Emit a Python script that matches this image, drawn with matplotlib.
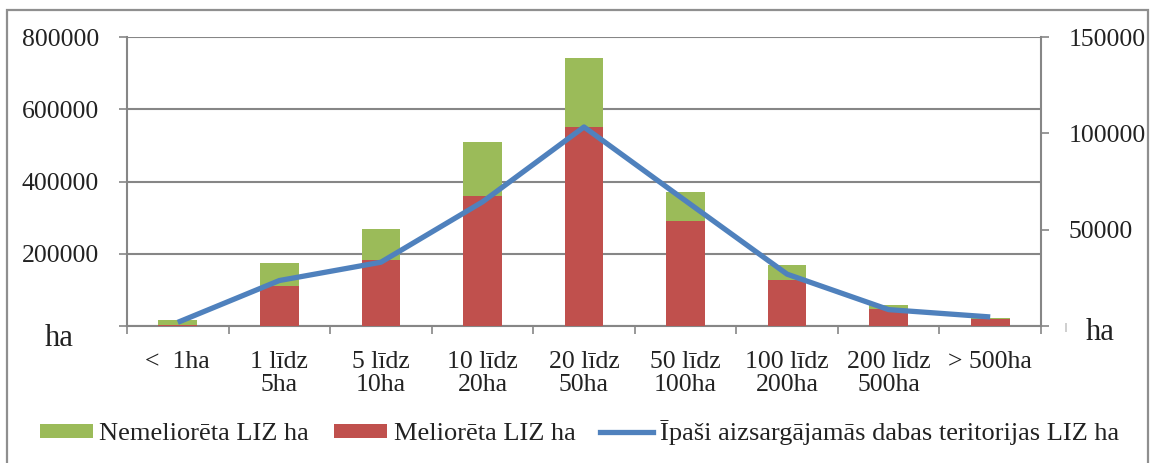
import matplotlib
matplotlib.use("Agg")
import matplotlib.pyplot as plt
import numpy as np
from matplotlib.patches import Rectangle, Patch
from matplotlib.lines import Line2D

categories = ["<  1ha", "1 līdz\n5ha", "5 līdz\n10ha", "10 līdz\n20ha", "20 līdz\n50ha",
              "50 līdz\n100ha", "100 līdz\n200ha", "200 līdz\n500ha", "> 500ha"]
meliorets = [4000, 110000, 182000, 361000, 550000, 290000, 127000, 47000, 20000]
nemeliorets = [12000, 64000, 86000, 148000, 192000, 80000, 41000, 11000, 3000]
ipasi = [1900, 23600, 33100, 64400, 103300, 65000, 26900, 8500, 4700]

left_ticks = [0, 200000, 400000, 600000, 800000]
left_labels = ["", "200000", "400000", "600000", "800000"]
right_ticks = [0, 50000, 100000, 150000]
right_labels = ["", "50000", "100000", "150000"]

green = "#9BBB59"
red = "#C0504D"
blue = "#4F81BD"
grey = "#868686"

plt.rcParams["font.family"] = ["Liberation Serif", "DejaVu Serif"]
W, H = 1151, 463
fig = plt.figure(figsize=(W / 100, H / 100), dpi=100)
ax = fig.add_axes([127 / W, 1 - 326 / H, (1041 - 127) / W, (326 - 37) / H])
ax2 = ax.twinx()

x = np.arange(len(categories))
bw = 0.38
ax.bar(x, meliorets, bw, color=red, zorder=3)
ax.bar(x, nemeliorets, bw, bottom=meliorets, color=green, zorder=3)
ax.set_xlim(-0.5, len(categories) - 0.5)
ax.set_ylim(0, 800000)
ax.set_yticks(left_ticks)
ax.set_yticklabels(left_labels, fontsize=18.5, color="#222222")
ax.yaxis.grid(True, color=grey, lw=1.5, zorder=0)
ax.set_axisbelow(True)
ax.tick_params(axis="y", length=6, width=1.2, color=grey, pad=14)

ax.set_xticks(x)
ax.set_xticklabels(categories, fontsize=18.5, color="#222222", linespacing=1.05, va="top")
ax.tick_params(axis="x", length=0, pad=18)
ax.set_xticks(np.arange(-0.5, len(categories)), minor=True)
ax.tick_params(axis="x", which="minor", length=6, width=1.2, color=grey)

ax2.plot(x, ipasi, color=blue, lw=3.8, solid_joinstyle="round", solid_capstyle="butt", zorder=5)
ax2.set_ylim(0, 150000)
ax2.set_yticks(right_ticks)
ax2.set_yticklabels(right_labels, fontsize=18.5, color="#222222")
ax2.tick_params(axis="y", length=6, width=1.2, color=grey, pad=14)

for a in (ax, ax2):
    for s in a.spines.values():
        s.set_visible(False)
ax.spines["left"].set_visible(True)
ax.spines["left"].set_color(grey)
ax.spines["left"].set_linewidth(1.5)
ax.spines["bottom"].set_visible(True)
ax.spines["bottom"].set_color(grey)
ax.spines["bottom"].set_linewidth(1.5)
ax2.spines["right"].set_visible(True)
ax2.spines["right"].set_color(grey)
ax2.spines["right"].set_linewidth(1.5)

fig.text(59 / W, 1 - 338 / H, "ha", fontsize=22, ha="center", va="center", color="#222222")
fig.text(1100 / W, 1 - 333 / H, "ha", fontsize=22, ha="center", va="center", color="#222222")
fig.text(1065 / W, 1 - 327 / H, "|", fontsize=7, ha="center", va="center", color="#444444")

handles = [Patch(facecolor=green, edgecolor="none"),
           Patch(facecolor=red, edgecolor="none"),
           Line2D([0], [0], color=blue, lw=3.8)]
labels = ["Nemeliorēta LIZ ha", "Meliorēta LIZ ha", "Īpaši aizsargājamās dabas teritorijas LIZ ha"]
fig.legend(handles, labels, loc="center left", bbox_to_anchor=(40 / W, 1 - 433 / H), ncol=3,
           frameon=False, fontsize=19.0, handlelength=2.0, handleheight=0.45, handletextpad=0.25,
           columnspacing=0.95, borderpad=0, borderaxespad=0, labelcolor="#222222")

fig.patches.append(Rectangle((7 / W, -0.05), (1148 - 7) / W, 1.05 - 10 / H, transform=fig.transFigure,
                             fill=False, edgecolor="#8f8f8f", lw=1.6))

fig.savefig("out.png", dpi=100)
